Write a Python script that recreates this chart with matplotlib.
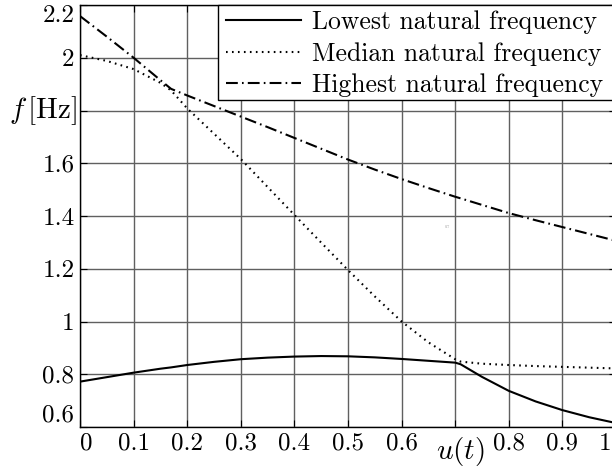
from matplotlib import pyplot as plt
from matplotlib import transforms
from matplotlib.patches import Rectangle
import numpy as np

plt.rcParams['font.family'] = 'serif'
plt.rcParams['font.serif'] = ['cmr10']
plt.rcParams['mathtext.fontset'] = 'cm'
plt.rcParams['axes.formatter.use_mathtext'] = True
plt.rcParams['lines.scale_dashes'] = False

u = [0, 0.05, 0.1, 0.15, 0.17, 0.2, 0.25, 0.3, 0.35, 0.4, 0.45, 0.5,
     0.55, 0.6, 0.65, 0.7, 0.71, 0.75, 0.8, 0.85, 0.9, 0.95, 1.0]
f_lowest = [0.772, 0.789, 0.806, 0.821, 0.826, 0.835, 0.847, 0.857, 0.863,
            0.867, 0.869, 0.868, 0.864, 0.858, 0.851, 0.844, 0.838, 0.790,
            0.737, 0.697, 0.664, 0.637, 0.615]
f_median = [2.01, 1.988, 1.957, 1.905, 1.876, 1.808, 1.712, 1.616, 1.510,
            1.404, 1.299, 1.195, 1.095, 1.0, 0.921, 0.857, 0.848, 0.840,
            0.835, 0.831, 0.828, 0.825, 0.822]
f_highest = [2.158, 2.08, 2.0, 1.915, 1.882, 1.857, 1.817, 1.777, 1.737,
             1.696, 1.655, 1.614, 1.576, 1.540, 1.506, 1.473, 1.467, 1.442,
             1.411, 1.384, 1.358, 1.332, 1.306]

xticks = [0, 0.1, 0.2, 0.3, 0.4, 0.5, 0.6, 0.7, 0.8, 0.9, 1.0]
xlabels = ['0', '0.1', '0.2', '0.3', '0.4', '0.5', '0.6', '', '0.8', '0.9', '1']
yticks = [0.6, 0.8, 1.0, 1.2, 1.4, 1.6, 1.8, 2.0, 2.2]
ylabels = ['0.6', '0.8', '1', '1.2', '1.4', '1.6', '', '2', '2.2']

fig = plt.figure(figsize=(6.12, 4.67), dpi=100)
ax = fig.add_axes([80 / 612, 1 - 427 / 467, 536 / 612, 422 / 467])

ax.plot(u, f_lowest, 'k-', linewidth=1.5, label='Lowest natural frequency')
ax.plot(u, f_median, color='k', linewidth=1.5, dashes=(1.2, 3.1),
        label='Median natural frequency')
ax.plot(u, f_highest, color='k', linewidth=1.5, dashes=(8.5, 3, 1.2, 3),
        label='Highest natural frequency')

ax.set_xlim(0, 1)
ax.set_ylim(0.6, 2.2)
ax.set_xticks(xticks)
ax.set_xticklabels(xlabels)
ax.set_yticks(yticks)
ax.set_yticklabels(ylabels)
ax.tick_params(direction='in', top=True, right=True, length=5, width=0.8,
               labelsize=18, pad=4)
ax.get_yticklabels()[0].set_va('bottom')
ax.get_yticklabels()[-1].set_va('top')
ax.get_xticklabels()[0].set_ha('left')
last = ax.get_xticklabels()[-1]
last.set_ha('right')
# pull the "1" back inside the figure edge
last.set_transform(last.get_transform() +
                   transforms.ScaledTranslation(-5 / 100, 0, fig.dpi_scale_trans))
ax.grid(True, color='#606060', linewidth=1.0)
for s in ax.spines.values():
    s.set_linewidth(1.0)

# axis labels sit where the 0.7 / 1.8 tick labels would be
tx = transforms.blended_transform_factory(ax.transData, ax.transAxes)
ax.text(0.709, -0.018, r'$u(t)$', transform=tx, ha='center', va='top',
        fontsize=21)
ty = transforms.blended_transform_factory(ax.transAxes, ax.transData)
ax.text(-0.006, 1.8, r'$f\,$[Hz]', transform=ty, ha='right', va='center',
        fontsize=21)
ax.text(0.681, 1.355, '0.7', fontsize=3, color='#999999')

# legend box runs past the right edge of the figure, as in the original
box = Rectangle((218 / 612, 1 - 100 / 467), 430 / 612, 95 / 467,
                transform=fig.transFigure, facecolor='white', edgecolor='k',
                linewidth=1.0, zorder=4.9, clip_on=False)
ax.add_patch(box)
leg = ax.legend(loc='upper left', bbox_to_anchor=(220 / 612, 1 - 4 / 467),
                bbox_transform=fig.transFigure, borderaxespad=0, fontsize=18.5,
                frameon=False, handlelength=2.9, handletextpad=0.45,
                labelspacing=0.3, borderpad=0.25)

plt.savefig('out.png', dpi=100)
plt.close(fig)
